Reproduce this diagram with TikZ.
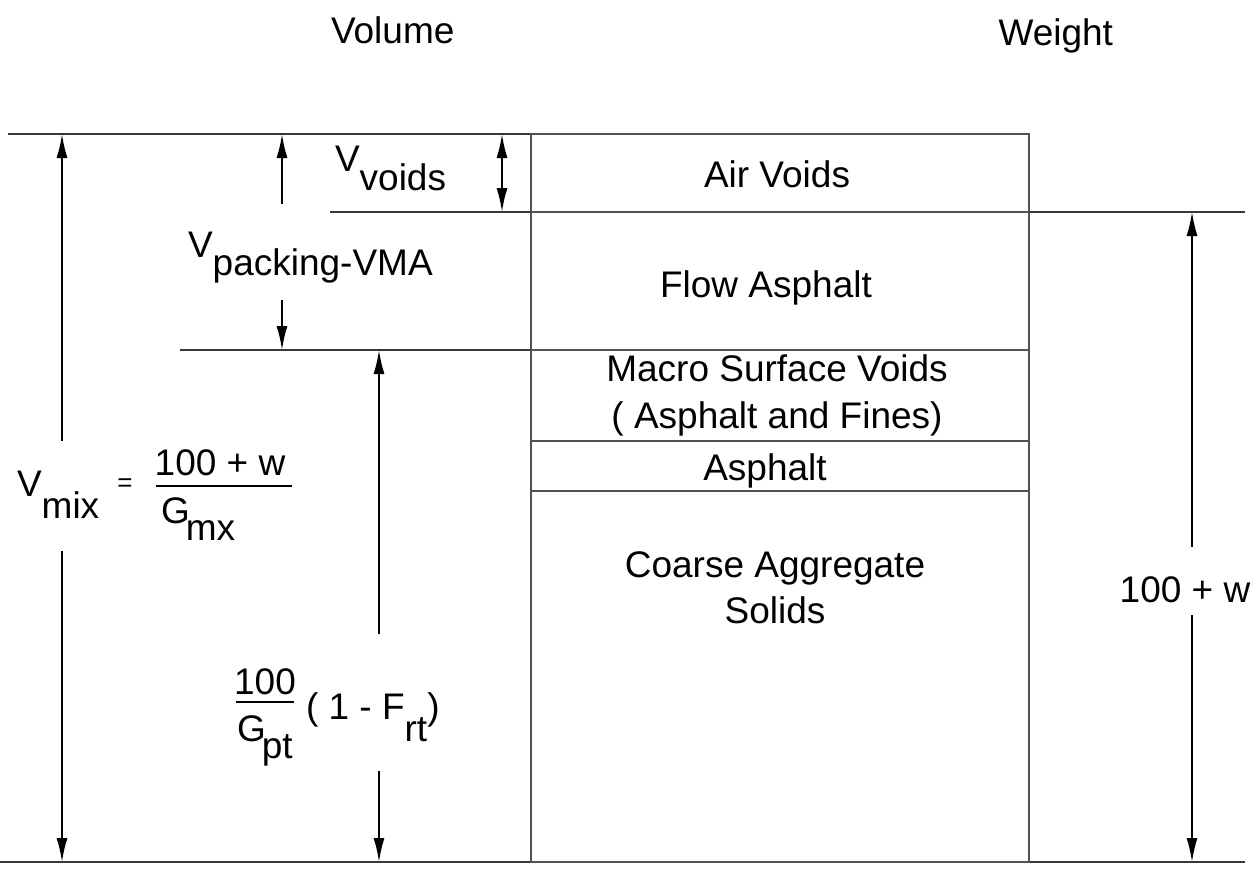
\documentclass[tikz,border=0pt]{standalone}
\usepackage{fontspec}
\setmainfont{Liberation Sans}
\usetikzlibrary{arrows.meta}
\begin{document}
\begin{tikzpicture}[x=1pt,y=-1pt,
  every node/.style={inner sep=0pt, outer sep=0pt, font=\fontsize{37}{40}\selectfont},
  boxline/.style={line width=2.8pt, draw=black!68},
  rule/.style={line width=2.2pt, draw=black!78},
  dim/.style={line width=1.8pt, draw=black, -{Latex[length=24pt,width=11pt]}},
  dimboth/.style={line width=1.8pt, draw=black, {Latex[length=24pt,width=11pt]}-{Latex[length=24pt,width=11pt]}},
  fracbar/.style={line width=1.6pt, draw=black}]
\useasboundingbox (0,0) rectangle (1257,871);
\fill[white] (0,0) rectangle (1257,871);

% headings
\node[anchor=base west] (volume) at (331,43) {Volume};
\node[anchor=base east] (weight) at (1113,45) {Weight};

% coordinates of rules
\coordinate (topL) at (8,134);
\coordinate (botL) at (0,862);
\coordinate (botR) at (1245,862);
\coordinate (l212L) at (330,212);
\coordinate (l212R) at (1245,212);
\coordinate (l350L) at (180,350);
\coordinate (bx1) at (531,134);
\coordinate (bx2) at (1029,862);
\coordinate (b212) at (531,212);
\coordinate (b350) at (531,350);
\coordinate (b440) at (531,441);
\coordinate (b490) at (531,491);
\coordinate (e212) at (1029,212);
\coordinate (e350) at (1029,350);
\coordinate (e440) at (1029,441);
\coordinate (e490) at (1029,491);

% rules
\draw[rule] (topL) -- (bx1);
\draw[rule] (botL) -- (botR);
\draw[rule] (l212L) -- (b212);
\draw[rule] (e212) -- (l212R);
\draw[rule] (l350L) -- (b350);
\draw[boxline] (bx1) rectangle (bx2);
\draw[boxline] (b212) -- (e212);
\draw[boxline] (b350) -- (e350);
\draw[boxline] (b440) -- (e440);
\draw[boxline] (b490) -- (e490);

% box labels
\node[anchor=base] (air) at (777,187) {Air Voids};
\node[anchor=base] (flow) at (766,297) {Flow Asphalt};
\node[anchor=base] (macro) at (777,381) {Macro Surface Voids};
\node[anchor=base] (fines) at (777,428) {( Asphalt and Fines)};
\node[anchor=base] (asph) at (765,480) {Asphalt};
\node[anchor=base] (coarse) at (775,577) {Coarse Aggregate};
\node[anchor=base] (solids) at (775,623) {Solids};

% V voids
\node[anchor=base west] (vvoids) at (335,171) {V\raisebox{-19pt}{voids}};
\coordinate (vv1) at (502,134);
\coordinate (vv2) at (502,212);
\draw[dimboth] (vv1) -- (vv2);

% V packing
\node[anchor=base west] (vpack) at (188,257) {V\raisebox{-18pt}{packing-VMA}};
\coordinate (vp0) at (282,134);
\coordinate (vp1) at (282,204);
\coordinate (vp2) at (282,300);
\coordinate (vp3) at (282,350);
\draw[dim] (vp1) -- (vp0);
\draw[dim] (vp2) -- (vp3);

% V mix
\node[anchor=base west] (vmix) at (17,496) {V\raisebox{-22pt}{mix}};
\node[font=\fontsize{26}{28}\selectfont] (eq) at (125,485) {=};
\node[anchor=base] (num1) at (220,475) {100 + w};
\coordinate (fb1a) at (156,486);
\coordinate (fb1b) at (292,486);
\draw[fracbar] (fb1a) -- (fb1b);
\node[anchor=base west] (den1) at (161,523) {G\kern-4pt\raisebox{-17pt}{mx}};
\coordinate (vm0) at (62,134);
\coordinate (vm1) at (62,441);
\coordinate (vm2) at (62,551);
\coordinate (vm3) at (62,862);
\draw[dim] (vm1) -- (vm0);
\draw[dim] (vm2) -- (vm3);

% 100/Gpt (1 - Frt)
\node[anchor=base] (num2) at (265,694) {100};
\coordinate (fb2a) at (236,702);
\coordinate (fb2b) at (294,702);
\draw[fracbar] (fb2a) -- (fb2b);
\node[anchor=base west] (den2) at (237,741) {G\kern-4pt\raisebox{-17pt}{pt}};
\node[anchor=base west] (paren) at (306,719) {( 1 - F\raisebox{-22pt}{rt})};
\coordinate (ag0) at (379,350);
\coordinate (ag1) at (379,634);
\coordinate (ag2) at (379,771);
\coordinate (ag3) at (379,862);
\draw[dim] (ag1) -- (ag0);
\draw[dim] (ag2) -- (ag3);

% 100 + w (weight)
\node[anchor=base] (wt) at (1185,602) {100 + w};
\coordinate (w0) at (1192,212);
\coordinate (w1) at (1192,547);
\coordinate (w2) at (1192,615);
\coordinate (w3) at (1192,862);
\draw[dim] (w1) -- (w0);
\draw[dim] (w2) -- (w3);
\end{tikzpicture}
\end{document}
